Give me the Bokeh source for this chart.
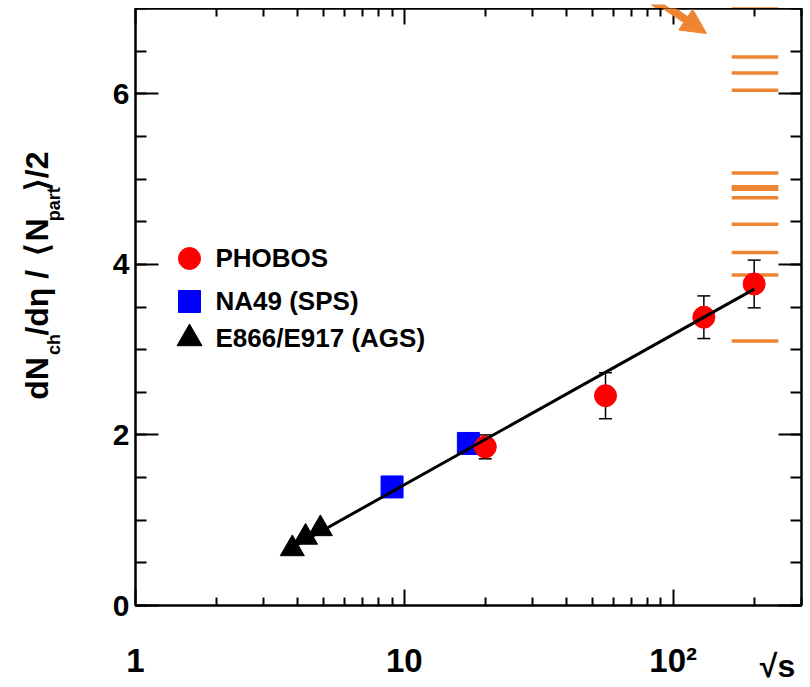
import math
from bokeh.plotting import figure
from bokeh.layouts import row, column
from bokeh.models import (ColumnDataSource, Whisker, TeeHead, Arrow, NormalHead, Label,
                          FixedTicker, SingleIntervalTicker, LinearAxis, LogAxis,
                          CustomJSTickFormatter, Range1d)
from bokeh.core.properties import value
from bokeh.embed import file_html
from bokeh.resources import INLINE

# ---------------- data ----------------
phobos_sqrts = [20.0, 56.0, 130.0, 200.0]
phobos_val = [1.86, 2.46, 3.38, 3.77]
phobos_err = [0.14, 0.27, 0.25, 0.28]

na49_sqrts = [9.0, 17.3]
na49_val = [1.39, 1.90]

ags_sqrts = [3.83, 4.29, 4.87]
ags_val = [0.665, 0.80, 0.90]

fit_sqrts = [3.56, 200.0]
fit_val = [0.625, 3.71]

model_sqrts_lo = 165.0
model_sqrts_hi = 246.0
model_val = [7.04, 6.43, 6.245, 6.04, 5.07, 4.91, 4.88, 4.78, 4.47, 4.14, 3.875, 3.10]

x_tick_values = [1, 10, 100]
x_tick_labels = ["1", "10", "10\u00b2"]
x_minor_ticks = [2, 3, 4, 5, 6, 7, 8, 9, 20, 30, 40, 50, 60, 70, 80, 90, 200, 300]

legend_labels = ["PHOBOS", "NA49 (SPS)", "E866/E917 (AGS)"]

# ---------------- layout ----------------
W, H = 810, 687
LW = 70          # strip holding the y title
TS = 8           # strip above the frame (arrow / line that run past the frame)
FL, FR, FT, FB = 135, 801, 8, 605
XMIN, XMAX = 1.0, 300.0
YMIN, YMAX = 0.0, 7.0
ARROW_START = (627, -20)     # canvas px
ARROW_TIP = (706, 33)

RED = "#ff0000"
BLUE = "#0000ff"
ORANGE = "#ee8532"
FONT = "Liberation Sans"

LLO, LHI = math.log10(XMIN), math.log10(XMAX)


def dx(px):
    return 10 ** (LLO + (px - FL) / (FR - FL) * (LHI - LLO))


def dy(py):
    return YMIN + (FB - py) / (FB - FT) * (YMAX - YMIN)


def px_x(v):
    return FL + (math.log10(v) - LLO) / (LHI - LLO) * (FR - FL)


def px_y(v):
    return FB - (v - YMIN) / (YMAX - YMIN) * (FB - FT)


p = figure(width=W - LW, height=H - TS, x_axis_type="log",
           x_range=(XMIN, XMAX), y_range=(YMIN, YMAX),
           output_backend="svg", toolbar_location=None,
           min_border_left=FL - LW, min_border_right=W - FR,
           min_border_top=0, min_border_bottom=H - FB)
p.xgrid.visible = False
p.ygrid.visible = False
p.outline_line_color = "black"
p.outline_line_width = 2
p.background_fill_color = "white"
p.border_fill_color = "white"


def style_axis(ax, major_in, minor_in):
    ax.axis_line_color = "black"
    ax.axis_line_width = 2
    ax.major_tick_line_color = "black"
    ax.major_tick_line_width = 2
    ax.minor_tick_line_color = "black"
    ax.minor_tick_line_width = 2
    ax.major_tick_in = major_in
    ax.major_tick_out = 0
    ax.minor_tick_in = minor_in
    ax.minor_tick_out = 0
    ax.major_label_text_font = FONT
    ax.major_label_text_font_style = "bold"
    ax.major_label_text_color = "black"


def hide_labels(ax):
    ax.formatter = CustomJSTickFormatter(code="return ''")
    ax.major_label_text_font_size = "1px"
    ax.major_label_standoff = 0


xticker = FixedTicker(ticks=x_tick_values, minor_ticks=x_minor_ticks)
yticker = SingleIntervalTicker(interval=2, num_minor_ticks=4)

xa = p.xaxis[0]
xa.ticker = xticker
xa.major_label_overrides = dict(zip(x_tick_values, x_tick_labels))
style_axis(xa, 16, 8)
xa.major_label_text_font_size = "33px"
xa.major_label_standoff = 36

ya = p.yaxis[0]
ya.ticker = yticker
style_axis(ya, 23, 11)
ya.major_label_text_font_size = "30px"
ya.major_label_standoff = 6

top = LogAxis(ticker=xticker)
style_axis(top, 16, 8)
hide_labels(top)
p.add_layout(top, "above")

right = LinearAxis(ticker=yticker)
style_axis(right, 23, 11)
hide_labels(right)
p.add_layout(right, "right")

# x-axis title "√s" as an extra, tick-less axis placed beside the tick labels
sq = LogAxis(ticker=FixedTicker(ticks=[dx(777)]),
             formatter=CustomJSTickFormatter(code="return '\u221as'"))
sq.axis_line_color = None
sq.major_tick_line_color = None
sq.minor_tick_line_color = None
sq.major_tick_in = 0
sq.major_tick_out = 0
sq.minor_tick_in = 0
sq.minor_tick_out = 0
sq.major_label_text_font = FONT
sq.major_label_text_font_style = "bold"
sq.major_label_text_font_size = "32px"
sq.major_label_text_color = "black"
sq.major_label_standoff = -34
p.add_layout(sq, "below")

# ---------------- model predictions (orange lines) ----------------
msrc = ColumnDataSource(dict(x0=[model_sqrts_lo] * len(model_val),
                             x1=[model_sqrts_hi] * len(model_val),
                             y=model_val))
p.segment(x0="x0", x1="x1", y0="y", y1="y", source=msrc,
          line_color=ORANGE, line_width=3.5)

p.add_layout(Arrow(end=NormalHead(size=25, fill_color=ORANGE, line_color=ORANGE),
                   x_start=dx(ARROW_START[0]), y_start=dy(ARROW_START[1]),
                   x_end=dx(ARROW_TIP[0]), y_end=dy(ARROW_TIP[1]),
                   line_color=ORANGE, line_width=8))

# ---------------- error bars ----------------
esrc = ColumnDataSource(dict(x=phobos_sqrts,
                             lower=[v - e for v, e in zip(phobos_val, phobos_err)],
                             upper=[v + e for v, e in zip(phobos_val, phobos_err)]))
p.add_layout(Whisker(source=esrc, base="x", lower="lower", upper="upper",
                     line_color="black", line_width=1.5, level="underlay",
                     lower_head=TeeHead(size=13, line_color="black", line_width=1.5),
                     upper_head=TeeHead(size=13, line_color="black", line_width=1.5)))

# ---------------- markers ----------------
p.scatter(ags_sqrts, ags_val, marker="triangle", size=24,
          fill_color="black", line_color="black")
p.scatter(na49_sqrts, na49_val, marker="square", size=22,
          fill_color=BLUE, line_color=BLUE)
p.scatter(phobos_sqrts, phobos_val, marker="circle", size=22,
          fill_color=RED, line_color=RED)

p.line(fit_sqrts, fit_val, line_color="black", line_width=3)

# ---------------- legend ----------------
leg_py = [258, 301, 338]
leg_markers = ["circle", "square", "triangle"]
leg_colors = [RED, BLUE, "black"]
leg_sizes = [22, 22, 25]
for lbl, py, mk, col, sz in zip(legend_labels, leg_py, leg_markers, leg_colors, leg_sizes):
    p.scatter([dx(189)], [dy(py)], marker=mk, size=sz, fill_color=col, line_color=col)
    p.add_layout(Label(x=dx(215), y=dy(py - 1), text=lbl, text_font=FONT,
                       text_font_style="bold", text_font_size="26px",
                       text_color="black", text_align="left",
                       text_baseline="middle"))

# ---------------- strip above the frame ----------------
ts = figure(width=W, height=TS, x_range=Range1d(0, W), y_range=Range1d(TS, 0),
            output_backend="svg", toolbar_location=None,
            x_axis_location=None, y_axis_location=None,
            min_border_left=0, min_border_right=0, min_border_top=0, min_border_bottom=0)
ts.xgrid.visible = False
ts.ygrid.visible = False
ts.outline_line_color = None
ts.background_fill_color = "white"
ts.border_fill_color = "white"
over = [v for v in model_val if v > YMAX]
ts.segment(x0=[px_x(model_sqrts_lo)] * len(over), x1=[px_x(model_sqrts_hi)] * len(over),
           y0=[px_y(v) for v in over], y1=[px_y(v) for v in over],
           line_color=ORANGE, line_width=3.5)
ts.segment(x0=[ARROW_START[0]], y0=[ARROW_START[1]], x1=[ARROW_TIP[0]], y1=[ARROW_TIP[1]],
           line_color=ORANGE, line_width=8)

# ---------------- y-axis title strip ----------------
yt = figure(width=LW, height=H - TS, x_range=Range1d(0, LW), y_range=Range1d(H - TS, 0),
            output_backend="svg", toolbar_location=None,
            x_axis_location=None, y_axis_location=None,
            min_border_left=0, min_border_right=0, min_border_top=0, min_border_bottom=0)
yt.xgrid.visible = False
yt.ygrid.visible = False
yt.outline_line_color = None
yt.background_fill_color = "white"
yt.border_fill_color = "white"

# (text piece, canvas y where it starts, is subscript)
ytitle_parts = [("dN", 453, False), ("ch", 402, True), ("/d\u03b7 /", 380, False),
                ("\u27e8", 289, False), ("N", 273, False), ("part", 250, True),
                ("\u27e9", 215, False), ("/2", 201, False)]
for sub in (False, True):
    parts = [t for t in ytitle_parts if t[2] == sub]
    size = 18 if sub else 32
    base_x = 60 if sub else 48
    src = ColumnDataSource(dict(x=[base_x - 0.3465 * size] * len(parts),
                                y=[t[1] - TS for t in parts],
                                text=[t[0] for t in parts]))
    yt.text(x="x", y="y", text="text", source=src, angle=math.pi / 2,
            text_font=value(FONT), text_font_style="bold",
            text_font_size=value(f"{size}px"),
            text_color="black", text_align="left", text_baseline="middle")

layout = column(ts, row(yt, p))
open("out.html", "w").write(file_html(layout, INLINE))
